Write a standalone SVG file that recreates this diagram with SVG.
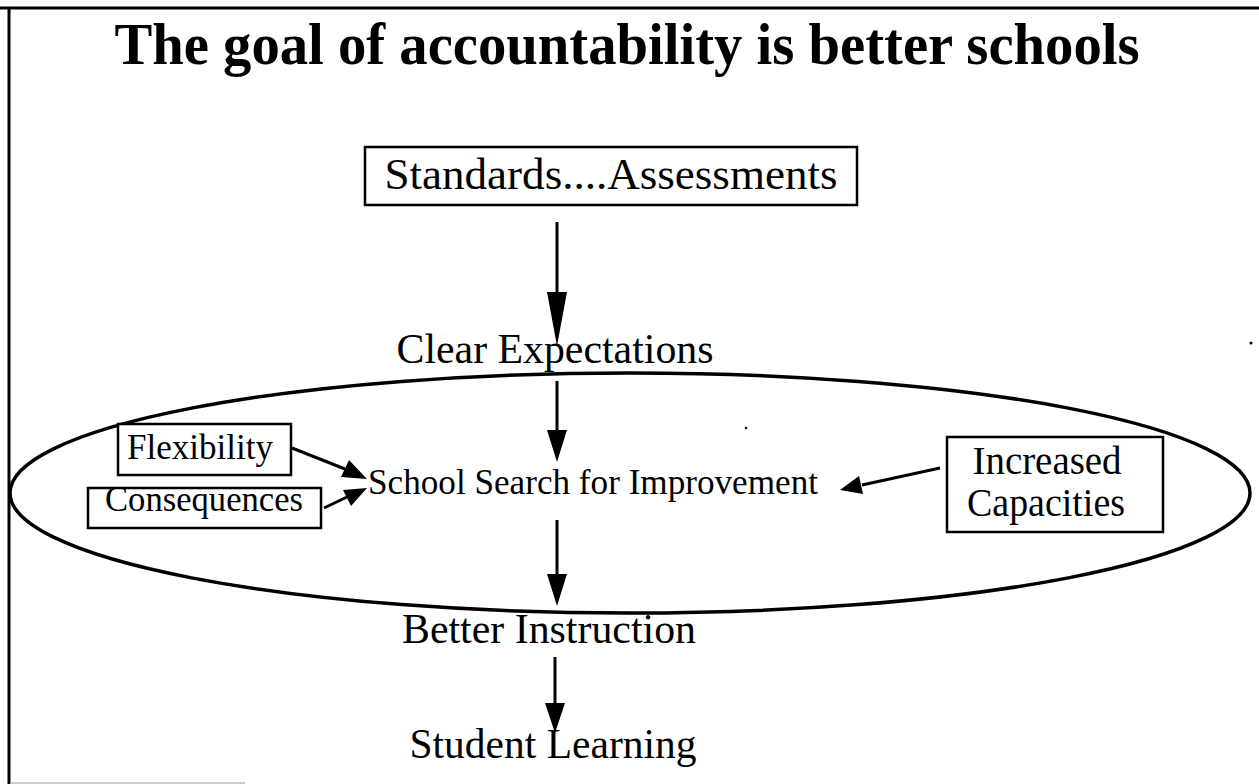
<svg xmlns="http://www.w3.org/2000/svg" width="1259" height="784" viewBox="0 0 1259 784">
  <style>
    .t { font-family: "Liberation Serif", "Times New Roman", serif; fill: #000; }
    .box { fill: #fff; stroke: #000; stroke-width: 2.5; }
    .conn { stroke: #000; stroke-width: 3; fill: none; }
  </style>
  <rect width="1259" height="784" fill="#fff"/>
  <g id="frame">
    <line x1="0" y1="8" x2="1259" y2="8" stroke="#000" stroke-width="3"/>
    <line x1="9" y1="8" x2="9" y2="784" stroke="#000" stroke-width="3"/>
    <line x1="10" y1="783" x2="245" y2="783" stroke="#bbb" stroke-width="1.5"/>
  </g>
  <g id="title">
    <text class="t" x="627" y="64" font-size="60" font-weight="bold" text-anchor="middle" textLength="1025" lengthAdjust="spacingAndGlyphs">The goal of accountability is better schools</text>
  </g>
  <g id="ellipse">
    <ellipse cx="630" cy="493" rx="620" ry="120" fill="none" stroke="#000" stroke-width="3.5"/>
  </g>
  <g id="connectors">
    <line class="conn" x1="557" y1="222" x2="557" y2="300"/>
    <path d="M547,292 L567,292 L557,346 z" fill="#000"/>
    <line class="conn" x1="557" y1="381" x2="557" y2="435"/>
    <path d="M547,430 L567,430 L557,462 z" fill="#000"/>
    <line class="conn" x1="557" y1="520" x2="557" y2="580"/>
    <path d="M547,574 L567,574 L557,606 z" fill="#000"/>
    <line class="conn" x1="555" y1="657" x2="555" y2="708"/>
    <path d="M545,703 L565,703 L555,733 z" fill="#000"/>
    <line class="conn" x1="292" y1="448" x2="345" y2="469"/>
    <path d="M367,479 L341,477 L349,460 z" fill="#000"/>
    <line class="conn" x1="324" y1="508" x2="347" y2="497"/>
    <path d="M367,488 L351,506 L343,490 z" fill="#000"/>
    <line class="conn" x1="940" y1="468" x2="862" y2="485"/>
    <path d="M840,490 L859,476 L863,494 z" fill="#000"/>
  </g>
  <g id="n-standards">
    <rect class="box" x="365" y="147" width="492" height="58"/>
    <text class="t" x="611" y="189" font-size="45" text-anchor="middle" textLength="453" lengthAdjust="spacingAndGlyphs">Standards....Assessments</text>
  </g>
  <g id="n-clear">
    <text class="t" x="555" y="363" font-size="43" text-anchor="middle" textLength="317" lengthAdjust="spacingAndGlyphs">Clear Expectations</text>
  </g>
  <g id="n-search">
    <text class="t" x="593" y="494" font-size="36" text-anchor="middle" textLength="450" lengthAdjust="spacingAndGlyphs">School Search for Improvement</text>
  </g>
  <g id="n-flex">
    <rect class="box" x="118" y="424" width="173" height="51"/>
    <text class="t" x="200" y="459" font-size="36" text-anchor="middle" textLength="146" lengthAdjust="spacingAndGlyphs">Flexibility</text>
  </g>
  <g id="n-cons">
    <rect class="box" x="88" y="488" width="233" height="40"/>
    <text class="t" x="204" y="511" font-size="36" text-anchor="middle" textLength="198" lengthAdjust="spacingAndGlyphs">Consequences</text>
  </g>
  <g id="n-capac">
    <rect class="box" x="947" y="437" width="216" height="95"/>
    <text class="t" x="1047" y="474" font-size="39" text-anchor="middle" textLength="149" lengthAdjust="spacingAndGlyphs">Increased</text>
    <text class="t" x="1046" y="516" font-size="39" text-anchor="middle" textLength="158" lengthAdjust="spacingAndGlyphs">Capacities</text>
  </g>
  <g id="n-better">
    <text class="t" x="549" y="643" font-size="43" text-anchor="middle" textLength="294" lengthAdjust="spacingAndGlyphs">Better Instruction</text>
  </g>
  <g id="n-student">
    <text class="t" x="553" y="758" font-size="43" text-anchor="middle" textLength="287" lengthAdjust="spacingAndGlyphs">Student Learning</text>
  </g>
  <g id="specks" fill="#000">
    <circle cx="1251" cy="343" r="1.5"/>
    <circle cx="746" cy="428" r="1.2"/>
  </g>
</svg>
